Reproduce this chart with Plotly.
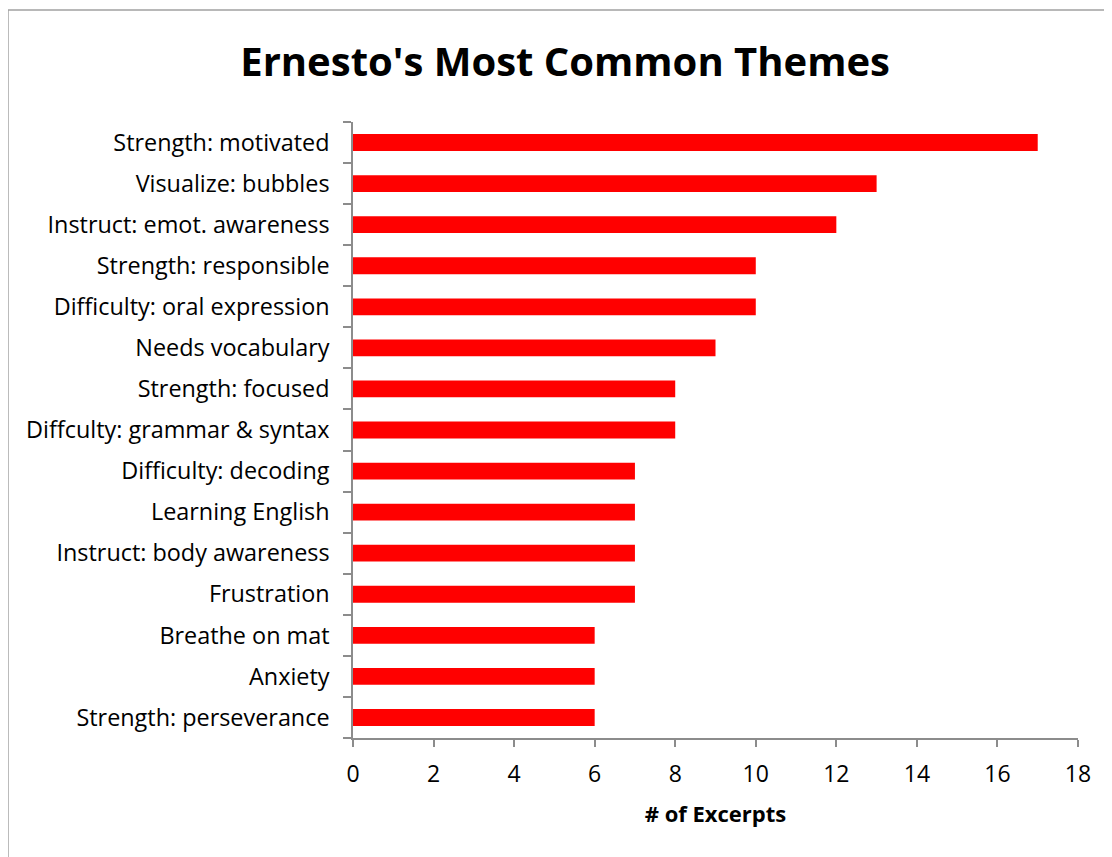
import plotly.graph_objects as go

themes = ["Strength: motivated", "Visualize: bubbles", "Instruct: emot. awareness",
          "Strength: responsible", "Difficulty: oral expression", "Needs vocabulary",
          "Strength: focused", "Diffculty: grammar & syntax", "Difficulty: decoding",
          "Learning English", "Instruct: body awareness", "Frustration",
          "Breathe on mat", "Anxiety", "Strength: perseverance"]
excerpts = [17, 13, 12, 10, 10, 9, 8, 8, 7, 7, 7, 7, 6, 6, 6]
x_ticks = [0, 2, 4, 6, 8, 10, 12, 14, 16, 18]

font = "Open Sans, sans-serif"
axis_col = "#8c8c8c"

fig = go.Figure(go.Bar(
    x=excerpts[::-1],
    y=themes[::-1],
    orientation="h",
    marker=dict(color="#ff0000", line=dict(width=0)),
))

# page body adds an 8px offset, so margins are shifted to compensate
fig.update_layout(
    width=1112, height=857,
    margin=dict(l=345, r=42, t=114, b=127),
    paper_bgcolor="white", plot_bgcolor="white",
    bargap=0.59,
    showlegend=False,
    font=dict(family=font, size=23, color="black"),
    title=dict(text="<b>Ernesto's Most Common Themes</b>", x=0.501, xanchor="center",
               y=0.937, yanchor="middle", font=dict(size=40, family=font)),
)

fig.update_xaxes(
    range=[0, 18], tickvals=x_ticks, showgrid=False, zeroline=False,
    showline=True, linecolor=axis_col, linewidth=1.5,
    ticks="outside", ticklen=7, tickcolor=axis_col, tickwidth=1.5,
    tickfont=dict(size=23), ticklabelstandoff=8,
    title=dict(text="<b># of Excerpts</b>", font=dict(size=22), standoff=18),
)
fig.update_yaxes(
    showgrid=False, zeroline=False, showline=True, linecolor=axis_col, linewidth=1.5,
    ticks="outside", tickson="boundaries", ticklen=8, tickcolor=axis_col, tickwidth=1.5,
    tickfont=dict(size=23.4), ticklabelstandoff=17,
)

# outer chart frame (left and top edges visible)
fig.add_shape(type="line", xref="paper", yref="paper", x0=-0.4759, x1=2, y0=1.1818, y1=1.1818,
              line=dict(color="#a0a0a0", width=1.5))
fig.add_shape(type="line", xref="paper", yref="paper", x0=-0.4759, x1=-0.4759, y0=1.1818, y1=-1,
              line=dict(color="#a0a0a0", width=1.5))

fig.write_html("out.html")
